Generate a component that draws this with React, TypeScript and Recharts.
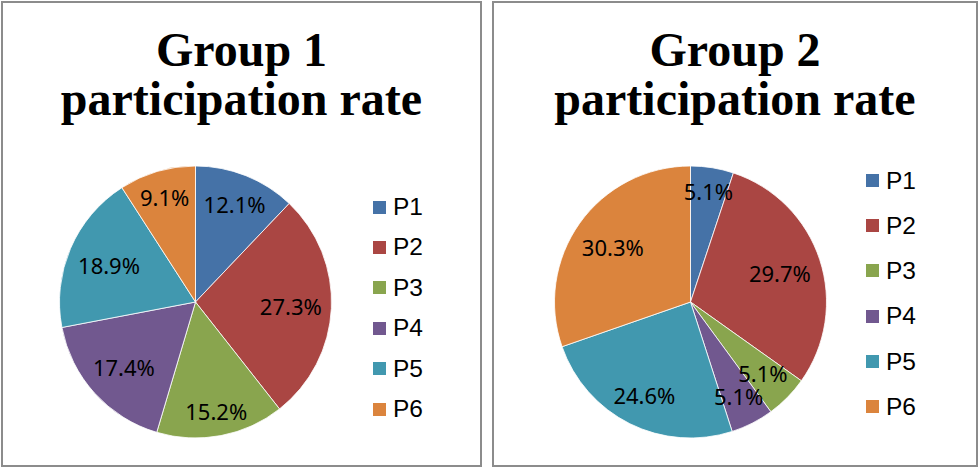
import React from 'react';
import { PieChart, Pie, Cell, Legend } from 'recharts';

const categories = ['P1', 'P2', 'P3', 'P4', 'P5', 'P6'];
const group1Values = [12.1, 27.3, 15.2, 17.4, 18.9, 9.1];
const group2Values = [5.1, 29.7, 5.1, 5.1, 24.6, 30.3];
const titles = ['Group 1', 'Group 2'];
const subtitle = 'participation rate';
const colors = ['#4572A7', '#AA4643', '#89A54E', '#71588F', '#4198AF', '#DB843D'];

const RADIAN = Math.PI / 180;
const LABEL_FONT = 22;

function charW(c: string) {
  if (c === '.') return 0.268;
  if (c === '%') return 0.858;
  return 0.572;
}

function renderLabel(props: any) {
  const { cx, cy, midAngle, outerRadius, value } = props;
  const text = `${Number(value).toFixed(1)}%`;
  const halfW = (text.split('').reduce((s, c) => s + charW(c), 0) * LABEL_FONT) / 2;
  const halfH = LABEL_FONT / 2;
  const ux = Math.cos(-midAngle * RADIAN);
  const uy = Math.sin(-midAngle * RADIAN);
  const extent = halfW * Math.abs(ux) + halfH * Math.abs(uy);
  const d = outerRadius * 0.935 - extent;
  const x = cx + d * ux;
  const y = cy + d * uy;
  return (
    <text
      x={x}
      y={y}
      textAnchor="middle"
      dominantBaseline="central"
      fill="#000"
      fontSize={LABEL_FONT}
      fontFamily='"Noto Sans", sans-serif'
    >
      {text}
    </text>
  );
}

function LegendList({ payload, rowH }: { payload?: any[]; rowH: number }) {
  const items = payload && payload.length ? payload : categories.map((c, i) => ({ value: c, color: colors[i] }));
  return (
    <div>
      {items.map((p: any, i: number) => (
        <div
          key={i}
          style={{
            height: rowH,
            display: 'flex',
            alignItems: 'center',
            fontFamily: '"Liberation Sans", Arial, sans-serif',
            fontSize: 24.5,
            lineHeight: `${rowH}px`,
            color: '#000',
          }}
        >
          <span style={{ display: 'inline-block', width: 13, height: 13, background: p.color, marginRight: 7 }} />
          <span>{p.value}</span>
        </div>
      ))}
    </div>
  );
}

type PanelProps = {
  left: number;
  width: number;
  title: string;
  values: number[];
  cx: number;
  legendLeft: number;
  legendTop: number;
  rowH: number;
};

function Panel({ left, width, title, values, cx, legendLeft, legendTop, rowH }: PanelProps) {
  const data = categories.map((name, i) => ({ name, value: values[i] }));
  const innerW = width - 4;
  const innerH = 462;
  return (
    <div
      style={{
        position: 'absolute',
        left,
        top: 1,
        width,
        height: 466,
        border: '2px solid #8c8c8c',
        boxSizing: 'border-box',
        background: '#fff',
      }}
    >
      <div
        style={{
          position: 'absolute',
          left: 0,
          top: 22,
          width: innerW,
          textAlign: 'center',
          fontFamily: '"Liberation Serif", "Times New Roman", serif',
          fontWeight: 'bold',
          fontSize: 48,
          lineHeight: '49px',
          color: '#000',
        }}
      >
        <div>{title}</div>
        <div>{subtitle}</div>
      </div>
      <div style={{ position: 'absolute', left: 0, top: 0 }}>
        <PieChart width={innerW} height={innerH} margin={{ top: 0, right: 0, bottom: 0, left: 0 }}>
          <Pie
            data={data}
            dataKey="value"
            nameKey="name"
            cx={cx}
            cy={299}
            outerRadius={136}
            startAngle={90}
            endAngle={-270}
            stroke="#ffffff"
            strokeWidth={0.8}
            labelLine={false}
            label={renderLabel}
            isAnimationActive={false}
          >
            {data.map((d, i) => (
              <Cell key={d.name} fill={colors[i]} />
            ))}
          </Pie>
          <Legend
            layout="vertical"
            align="right"
            verticalAlign="top"
            wrapperStyle={{ position: 'absolute', left: legendLeft, top: legendTop, width: 80, right: 'auto', bottom: 'auto' }}
            content={(p: any) => <LegendList payload={p.payload} rowH={rowH} />}
          />
        </PieChart>
      </div>
    </div>
  );
}

export default function App() {
  return (
    <div style={{ position: 'absolute', left: 0, top: 0, width: 980, height: 468, background: '#fff' }}>
      <Panel left={1} width={481} title={titles[0]} values={group1Values} cx={192.5} legendLeft={370} legendTop={184} rowH={40.4} />
      <Panel left={492} width={486} title={titles[1]} values={group2Values} cx={196.5} legendLeft={372} legendTop={154.5} rowH={45.3} />
    </div>
  );
}
